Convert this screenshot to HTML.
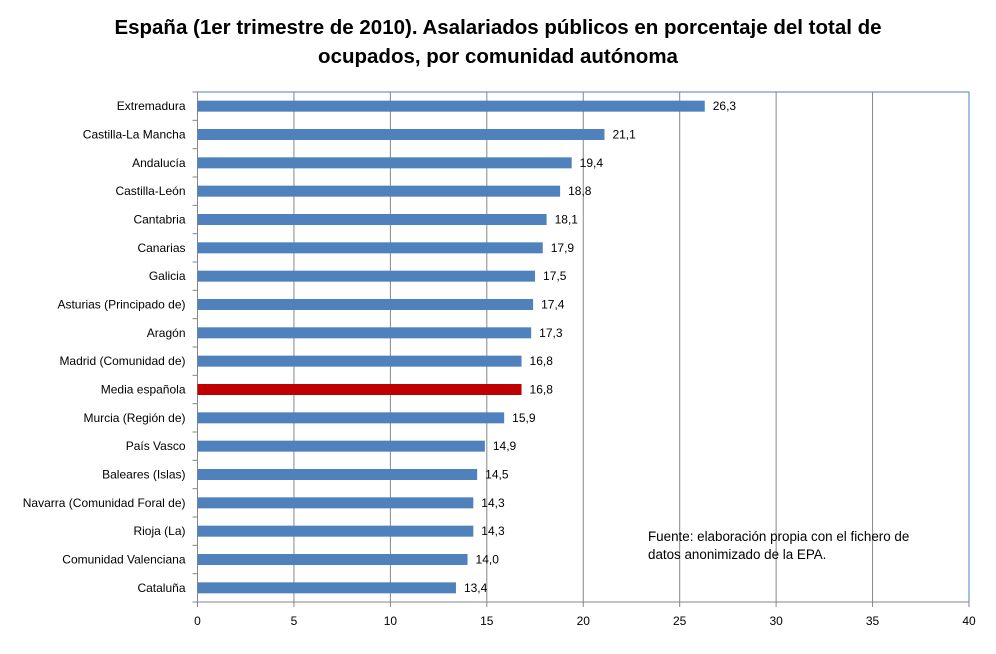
<!DOCTYPE html>
<html><head><meta charset="utf-8"><style>
body{margin:0;background:#fff;font-family:"Liberation Sans",sans-serif}
svg text{font-family:"Liberation Sans",sans-serif}
</style></head><body>
<svg width="996" height="649" viewBox="0 0 996 649">
<text x="498" y="34" text-anchor="middle" font-size="20.5" font-weight="bold" fill="#000">España (1er trimestre de 2010). Asalariados públicos en porcentaje del total de</text>
<text x="498" y="63" text-anchor="middle" font-size="20.5" font-weight="bold" fill="#000">ocupados, por comunidad autónoma</text>
<g id="plot"></g>
<text x="648" y="541" font-size="13.4" fill="#000">Fuente: elaboración propia con el fichero de</text>
<text x="648" y="559" font-size="13.4" fill="#000">datos anonimizado de la EPA.</text>
</svg>
<script>
const categories=["Extremadura","Castilla-La Mancha","Andalucía","Castilla-León","Cantabria","Canarias","Galicia","Asturias (Principado de)","Aragón","Madrid (Comunidad de)","Media española","Murcia (Región de)","País Vasco","Baleares (Islas)","Navarra (Comunidad Foral de)","Rioja (La)","Comunidad Valenciana","Cataluña"];
const values=[26.3,21.1,19.4,18.8,18.1,17.9,17.5,17.4,17.3,16.8,16.8,15.9,14.9,14.5,14.3,14.3,14.0,13.4];
const ticks=[0,5,10,15,20,25,30,35,40];
const L=197.5,R=969,T=92,B=602;
const x=v=>L+(v/40)*(R-L);
const rowH=(B-T)/categories.length;
const y=i=>T+rowH*(i+0.5);
const g=document.getElementById('plot');
const NS='http://www.w3.org/2000/svg';
function mk(t,a){const e=document.createElementNS(NS,t);for(const k in a)e.setAttribute(k,a[k]);g.appendChild(e);return e;}
ticks.forEach((t,i)=>{
  if(t>0&&t<40){const l=mk('line',{x1:x(t),x2:x(t),y1:T,y2:B,stroke:'#868686','stroke-width':1});
  
  }
  const tk=mk('line',{x1:x(t),x2:x(t),y1:B,y2:B+5,stroke:'#868686'});
  
  
  const tx=mk('text',{x:x(t),y:B+23,'text-anchor':'middle','font-size':12,fill:'#000'});
  tx.textContent=t;
  
  
});
const fr=mk('rect',{x:L,y:T,width:R-L,height:B-T,fill:'none',stroke:'#4f81bd','stroke-width':1});


const ax=mk('line',{x1:L,x2:L,y1:T,y2:B,stroke:'#868686'});


const bx=mk('line',{x1:L,x2:R,y1:B,y2:B,stroke:'#868686'});


for(let i=0;i<=categories.length;i++){
  const tk=mk('line',{x1:L-5,x2:L,y1:T+rowH*i,y2:T+rowH*i,stroke:'#868686'});
  
  
}
categories.forEach((c,i)=>{
  const cy=y(i);
  const b=mk('rect',{x:L,y:cy-5.5,width:x(values[i])-L,height:11,fill:c==="Media española"?'#c00000':'#4f81bd'});
  
  
  const lb=mk('text',{x:L-12,y:cy+4,'text-anchor':'end','font-size':12,fill:'#000'});
  lb.textContent=c;
  
  
  const vl=mk('text',{x:x(values[i])+8,y:cy+4,'font-size':12,fill:'#000'});
  vl.textContent=values[i].toFixed(1).replace('.',',');
  
  
});
</script>
</body></html>
